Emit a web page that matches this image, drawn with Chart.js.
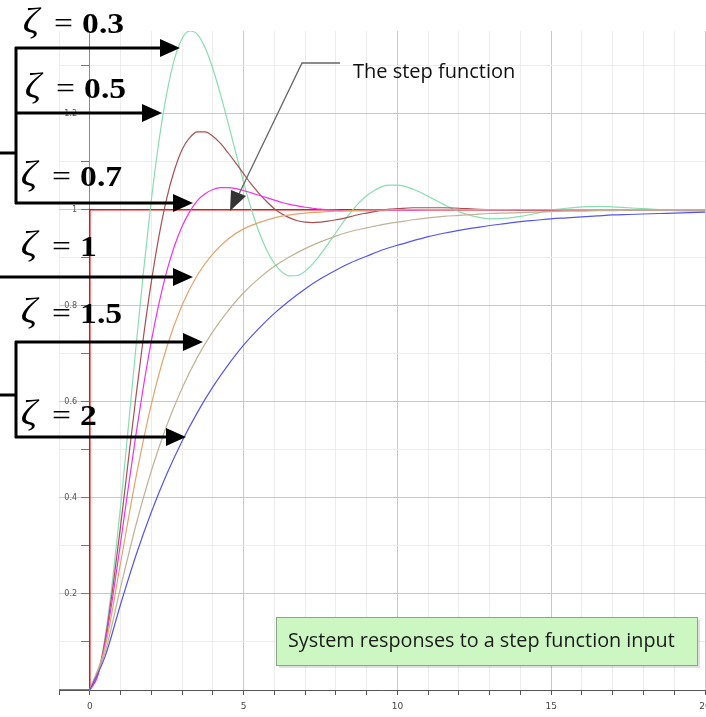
<!DOCTYPE html>
<html>
<head>
<meta charset="utf-8">
<script src="https://cdn.jsdelivr.net/npm/chart.js@4.4.1/dist/chart.umd.min.js"></script>
<style>
  html, body { margin: 0; padding: 0; background: #fff; }
  #wrap { width: 706px; height: 717px; position: relative; }
</style>
</head>
<body>
<div id="wrap"><canvas id="myChart"></canvas></div>
<script>
// tiempo (s): paso fino para las curvas oscilantes, paso normal para las sobreamortiguadas
const timeFine = [0, 0.25, 0.5, 0.75, 1, 1.25, 1.5, 1.75, 2, 2.25, 2.5, 2.75, 3, 3.25, 3.5, 3.75, 4, 4.25, 4.5, 4.75,
    5, 5.25, 5.5, 5.75, 6, 6.25, 6.5, 6.75, 7, 7.25, 7.5, 7.75, 8, 8.25, 8.5, 8.75, 9, 9.25, 9.5, 9.75, 10,
    10.5, 11, 11.5, 12, 12.5, 13, 13.5, 14, 14.5, 15, 15.5, 16, 16.5, 17, 17.5, 18, 18.5, 19, 19.5, 20];
const time = [0, 0.5, 1, 1.5, 2, 2.5, 3, 3.5, 4, 4.5, 5, 5.5, 6, 6.5, 7, 7.5, 8, 8.5, 9, 9.5,
    10, 10.5, 11, 11.5, 12, 12.5, 13, 13.5, 14, 14.5, 15, 15.5, 16, 16.5, 17, 17.5, 18, 18.5, 19, 19.5, 20];

// respuesta al escalón, subamortiguadas (sobre timeFine)
const zeta03 = [0, 0.030, 0.111, 0.233, 0.381, 0.545, 0.713, 0.873, 1.019, 1.143, 1.241, 1.313, 1.356, 1.372,
    1.365, 1.337, 1.294, 1.240, 1.180, 1.118, 1.057, 1.002, 0.954, 0.916, 0.888, 0.870, 0.862, 0.863, 0.872,
    0.887, 0.907, 0.929, 0.952, 0.975, 0.996, 1.014, 1.029, 1.040, 1.048, 1.051, 1.051,
    1.043, 1.028, 1.011, 0.996, 0.986, 0.981, 0.982, 0.986, 0.992, 0.999, 1.003, 1.006, 1.007, 1.006,
    1.004, 1.002, 1.000, 0.998, 0.997, 0.997];
const zeta05 = [0, 0.029, 0.104, 0.213, 0.340, 0.476, 0.610, 0.737, 0.849, 0.945, 1.023, 1.082, 1.125, 1.150,
    1.162, 1.162, 1.153, 1.138, 1.118, 1.097, 1.075, 1.053, 1.034, 1.017, 1.002, 0.991, 0.983, 0.977, 0.974,
    0.973, 0.974, 0.976, 0.979, 0.982, 0.986, 0.990, 0.993, 0.996, 0.999, 1.001, 1.002,
    1.004, 1.004, 1.004, 1.003, 1.001, 1.000, 1.000, 0.999, 0.999, 0.999, 1.000, 1.000, 1.000, 1.000,
    1.000, 1.000, 1.000, 1.000, 1.000, 1.000];
const zeta07 = [0, 0.028, 0.098, 0.195, 0.306, 0.420, 0.531, 0.634, 0.726, 0.805, 0.871, 0.924, 0.965, 0.996,
    1.019, 1.033, 1.042, 1.046, 1.046, 1.044, 1.040, 1.035, 1.030, 1.025, 1.020, 1.015, 1.011, 1.008, 1.005,
    1.003, 1.001, 1.000, 0.999, 0.998, 0.998, 0.998, 0.998, 0.998, 0.998, 0.999, 0.999,
    0.999, 1.000, 1.000, 1.000, 1.000, 1.000, 1.000, 1.000, 1.000, 1.000, 1.000, 1.000, 1.000, 1.000,
    1.000, 1.000, 1.000, 1.000, 1.000, 1.000];

// sobreamortiguadas (sobre time)
const zeta10 = [0, 0.090, 0.264, 0.442, 0.594, 0.713, 0.801, 0.864, 0.908, 0.939, 0.960, 0.973, 0.983, 0.989,
    0.993, 0.995, 0.997, 0.998, 0.999, 0.999, 1.000, 1.000, 1.000, 1.000, 1.000, 1.000, 1.000, 1.000, 1.000,
    1.000, 1.000, 1.000, 1.000, 1.000, 1.000, 1.000, 1.000, 1.000, 1.000, 1.000, 1.000];
const zeta15 = [0, 0.079, 0.213, 0.343, 0.456, 0.550, 0.628, 0.693, 0.746, 0.790, 0.827, 0.857, 0.882, 0.902,
    0.919, 0.933, 0.945, 0.955, 0.962, 0.969, 0.974, 0.979, 0.983, 0.986, 0.988, 0.990, 0.992, 0.993, 0.994,
    0.995, 0.996, 0.997, 0.997, 0.998, 0.998, 0.999, 0.999, 0.999, 0.999, 0.999, 0.999];
const zeta20 = [0, 0.070, 0.178, 0.280, 0.370, 0.449, 0.518, 0.578, 0.631, 0.677, 0.718, 0.753, 0.784, 0.811,
    0.835, 0.856, 0.874, 0.890, 0.903, 0.916, 0.926, 0.935, 0.944, 0.951, 0.957, 0.962, 0.967, 0.971, 0.975,
    0.978, 0.981, 0.983, 0.985, 0.987, 0.989, 0.990, 0.991, 0.992, 0.993, 0.994, 0.995];

// función escalón
const stepX = [-1, 0, 0, 20];
const stepY = [0, 0, 1, 1];

const xTickLabels = [0, 5, 10, 15, 20];
const yTickLabels = [0.2, 0.4, 0.6, 0.8, 1, 1.2];

function toPoints(xs, ys) {
    return xs.map((x, i) => ({ x: x, y: ys[i] }));
}

function curve(label, xs, ys, color) {
    return {
        label: label,
        data: toPoints(xs, ys),
        borderColor: color,
        borderWidth: 1.2,
        pointRadius: 0,
        cubicInterpolationMode: 'monotone',
        fill: false
    };
}

const datasets = [
    curve('ζ = 2', time, zeta20, 'rgb(85, 85, 235)'),
    curve('ζ = 1.5', time, zeta15, 'rgb(192, 178, 150)'),
    curve('ζ = 1', time, zeta10, 'rgb(232, 162, 105)'),
    curve('ζ = 0.7', timeFine, zeta07, 'rgb(238, 50, 238)'),
    curve('ζ = 0.5', timeFine, zeta05, 'rgb(168, 80, 80)'),
    curve('ζ = 0.3', timeFine, zeta03, 'rgb(135, 222, 175)'),
    {
        label: 'escalón',
        data: toPoints(stepX, stepY),
        borderColor: 'rgb(232, 20, 20)',
        borderWidth: 1.6,
        pointRadius: 0,
        tension: 0,
        fill: false
    }
];

// flecha negra gruesa
function arrow(ctx, x0, y, x1) {
    ctx.beginPath();
    ctx.moveTo(x0, y);
    ctx.lineTo(x1 - 16, y);
    ctx.stroke();
    ctx.beginPath();
    ctx.moveTo(x1, y);
    ctx.lineTo(x1 - 20, y - 9);
    ctx.lineTo(x1 - 20, y + 9);
    ctx.closePath();
    ctx.fill();
}

function zetaLabel(ctx, value, x, y) {
    ctx.save();
    ctx.translate(x, y);
    ctx.scale(1.12, 1);
    ctx.fillStyle = '#000';
    ctx.textBaseline = 'alphabetic';
    ctx.textAlign = 'left';
    ctx.font = 'italic 36px "Liberation Serif"';
    ctx.fillText('ζ', -2, 0);
    ctx.font = '30px "Liberation Serif"';
    ctx.fillText('=', 26, 0);
    ctx.font = 'bold 30px "Liberation Serif"';
    ctx.fillText(value, 51, 0);
    ctx.restore();
}

const annotations = {
    id: 'annotations',
    afterDraw(chart) {
        const ctx = chart.ctx;
        ctx.save();

        // recuadro verde
        ctx.fillStyle = 'rgba(0,0,0,0.12)';
        ctx.fillRect(279, 620, 421, 48);
        ctx.fillStyle = 'rgb(204, 246, 194)';
        ctx.fillRect(276, 617, 421, 48);
        ctx.strokeStyle = 'rgb(140, 165, 135)';
        ctx.lineWidth = 1;
        ctx.strokeRect(276.5, 617.5, 421, 48);
        ctx.fillStyle = '#1a1a1a';
        ctx.font = '19.8px "Open Sans"';
        ctx.textBaseline = 'middle';
        ctx.textAlign = 'left';
        ctx.fillText('System responses to a step function input', 288, 641);

        // llamada de la función escalón
        ctx.strokeStyle = '#666';
        ctx.lineWidth = 1.3;
        ctx.beginPath();
        ctx.moveTo(340, 63);
        ctx.lineTo(302, 63);
        ctx.lineTo(238, 196);
        ctx.stroke();
        ctx.fillStyle = '#333';
        ctx.beginPath();
        ctx.moveTo(230, 211);
        ctx.lineTo(231, 190);
        ctx.lineTo(246, 196);
        ctx.closePath();
        ctx.fill();
        ctx.fillStyle = '#111';
        ctx.font = '20px "Open Sans"';
        ctx.textBaseline = 'alphabetic';
        ctx.fillText('The step function', 353, 78);

        // etiquetas ζ
        zetaLabel(ctx, '0.3', 25, 33);
        zetaLabel(ctx, '0.5', 27, 98);
        zetaLabel(ctx, '0.7', 23, 186);
        zetaLabel(ctx, '1', 23, 256);
        zetaLabel(ctx, '1.5', 23, 323);
        zetaLabel(ctx, '2', 23, 425);

        // corchetes y flechas
        ctx.strokeStyle = '#000';
        ctx.fillStyle = '#000';
        ctx.lineWidth = 3;
        ctx.lineCap = 'butt';
        ctx.beginPath();
        ctx.moveTo(16, 47);
        ctx.lineTo(16, 204);
        ctx.moveTo(0, 153);
        ctx.lineTo(16, 153);
        ctx.moveTo(16, 341);
        ctx.lineTo(16, 438);
        ctx.moveTo(0, 395);
        ctx.lineTo(16, 395);
        ctx.stroke();
        arrow(ctx, 15, 48, 180);
        arrow(ctx, 15, 113, 162);
        arrow(ctx, 15, 203, 193);
        arrow(ctx, 0, 277, 193);
        arrow(ctx, 15, 342, 203);
        arrow(ctx, 15, 437, 186);

        ctx.restore();
    }
};

const config = {
    type: 'line',
    data: { datasets: datasets },
    options: {
        responsive: true,
        maintainAspectRatio: false,
        animation: false,
        layout: { padding: { left: 59, top: 31, right: 1, bottom: 0 } },
        plugins: {
            legend: { display: false },
            tooltip: { enabled: false }
        },
        scales: {
            x: {
                type: 'linear',
                min: -1,
                max: 20,
                border: { color: '#555', width: 1 },
                grid: {
                    color: c => (c.tick && c.tick.value % 5 === 0) ? '#c8c8c8' : '#ececec',
                    tickLength: 5,
                    tickColor: '#555'
                },
                ticks: {
                    stepSize: 1,
                    autoSkip: false,
                    maxRotation: 0,
                    padding: 6,
                    color: '#444',
                    font: { family: 'DejaVu Sans', size: 9 },
                    callback: v => xTickLabels.includes(v) ? String(v) : ''
                },
                afterFit: s => { s.height = 27; s.paddingLeft = 0; s.paddingRight = 0; }
            },
            y: {
                type: 'linear',
                position: { x: 0 },
                min: 0,
                max: 1.372,
                border: { color: '#8a8a8a', width: 1 },
                grid: {
                    color: c => (c.tick && Math.round(c.tick.value * 10) % 2 === 0) ? '#c8c8c8' : '#ececec',
                    tickLength: 8,
                    tickColor: '#777'
                },
                ticks: {
                    stepSize: 0.1,
                    includeBounds: false,
                    autoSkip: false,
                    color: '#555',
                    font: { family: 'DejaVu Sans', size: 8 },
                    // espacios al final para separar la etiqueta del eje
                    callback: v => {
                        const hit = yTickLabels.find(t => Math.abs(t - v) < 1e-6);
                        return hit === undefined ? '' : String(hit) + '     ';
                    }
                },
                afterFit: s => { s.paddingTop = 0; s.paddingBottom = 0; }
            }
        }
    },
    plugins: [annotations]
};

const myChart = new Chart(document.getElementById('myChart'), config);
</script>
</body>
</html>
